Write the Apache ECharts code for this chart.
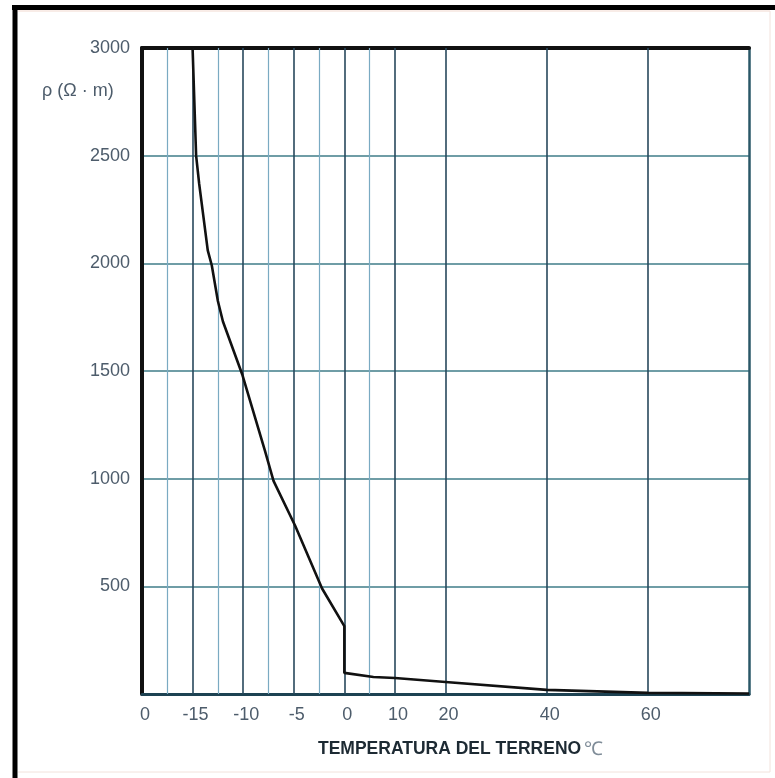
<!DOCTYPE html>
<html>
<head>
<meta charset="utf-8">
<script src="https://cdn.jsdelivr.net/npm/echarts@6/dist/echarts.min.js"></script>
<style>
html,body{margin:0;padding:0;background:#fff;}
#c{width:775px;height:778px;}
</style>
</head>
<body>
<div id="c"></div>
<script>
// Curve: soil temperature (°C) vs resistivity (Ω·m)
var temps = [-15.0, -14.65, -14.35, -13.5, -13.1, -12.5, -12.0, -10.1, -7.85, -7.0, -4.85, -2.2, 0, 0, 5.75, 10, 20, 40, 60, 80];
var resist = [3000, 2500, 2370, 2060, 1990, 1825, 1730, 1485, 1130, 990, 780, 490, 315, 98, 79, 74, 56, 19, 5, 2];

// Vertical grid temperatures (major = labelled)
var majorTemps = [-15, -10, -5, 0, 10, 20, 40, 60];
var minorTemps = [-17.5, -12.5, -7.5, -2.5, 5];
// Tick labels at temperatures
var tickTemps = [-20, -15, -10, -5, 0, 10, 20, 40, 60];
var tickLabels = ['0', '-15', '-10', '-5', '0', '10', '20', '40', '60'];

var yTicks = [500, 1000, 1500, 2000, 2500, 3000];

// Piecewise printed scale: below 0 °C 2.5 °C per division, above 0 °C 5 °C per division
function tPos(t) { return t < 0 ? (t + 20) / 2.5 : 8 + t / 5; }

var curve = temps.map(function (t, i) { return [tPos(t), resist[i]]; });
var labelMap = {};
tickTemps.forEach(function (t, i) { labelMap[Math.round(tPos(t))] = tickLabels[i]; });

var vLines = [];
majorTemps.forEach(function (t) {
  vLines.push({ xAxis: tPos(t), lineStyle: { color: '#27485c', width: 1.6, type: 'solid' } });
});
minorTemps.forEach(function (t) {
  vLines.push({ xAxis: tPos(t), lineStyle: { color: '#7aaac2', width: 1.2, type: 'solid' } });
});

var chart = echarts.init(document.getElementById('c'), null, { renderer: 'canvas' });
var font = 'Liberation Sans, Arial, sans-serif';
chart.setOption({
  animation: false,
  backgroundColor: '#fff',
  grid: { left: 142, top: 48, right: 26, bottom: 84, containLabel: false },
  xAxis: [{
    type: 'value', min: 0, max: 24, interval: 1,
    axisLine: { show: true, onZero: false, lineStyle: { color: '#1d4252', width: 3 } },
    axisTick: { show: false },
    splitLine: { show: false },
    axisLabel: {
      show: true, margin: 12, color: '#4d5c6b', fontSize: 18, fontFamily: font,
      padding: [0, 0, 0, 6],
      formatter: function (v) { var k = Math.round(v); return labelMap[k] !== undefined ? labelMap[k] : ''; }
    }
  }, {
    type: 'value', min: 0, max: 24, position: 'top',
    axisLine: { show: true, onZero: false, lineStyle: { color: '#111', width: 4 } },
    axisTick: { show: false }, axisLabel: { show: false }, splitLine: { show: false }
  }],
  yAxis: [{
    type: 'value', min: 0, max: 3000, interval: 500,
    axisLine: { show: true, onZero: false, lineStyle: { color: '#111', width: 4 } },
    axisTick: { show: false },
    splitLine: { show: true, lineStyle: { color: '#3f7d88', width: 1.5 } },
    axisLabel: {
      show: true, margin: 12, color: '#4d5c6b', fontSize: 18, fontFamily: font,
      showMinLabel: false,
      padding: [0, 0, 5, 0],
      formatter: function (v) { return yTicks.indexOf(v) >= 0 ? String(v) : ''; }
    }
  }, {
    type: 'value', min: 0, max: 3000, position: 'right',
    axisLine: { show: true, onZero: false, lineStyle: { color: '#2a5767', width: 2.5 } },
    axisTick: { show: false }, axisLabel: { show: false }, splitLine: { show: false }
  }],
  series: [{
    type: 'line', data: [], z: 1, silent: true,
    markLine: { silent: true, symbol: ['none', 'none'], label: { show: false }, animation: false, data: vLines }
  }, {
    type: 'line', data: curve, z: 5, showSymbol: false, symbol: 'none',
    lineStyle: { color: '#111', width: 2.6 }, smooth: false
  }],
  graphic: [
    { type: 'line', shape: { x1: 12, y1: 7.5, x2: 775, y2: 7.5 }, style: { stroke: '#000', lineWidth: 5 } },
    { type: 'line', shape: { x1: 15, y1: 5, x2: 15, y2: 778 }, style: { stroke: '#000', lineWidth: 5 } },
    { type: 'line', shape: { x1: 18, y1: 11, x2: 770, y2: 11 }, style: { stroke: '#f2d9cf', lineWidth: 1 } },
    { type: 'line', shape: { x1: 770, y1: 11, x2: 770, y2: 772 }, style: { stroke: '#f2e2dc', lineWidth: 1 } },
    { type: 'line', shape: { x1: 18, y1: 772, x2: 770, y2: 772 }, style: { stroke: '#f2e2dc', lineWidth: 1 } },
    {
      type: 'text', left: 42, top: 82,
      style: { text: 'ρ (Ω · m)', fill: '#4d5c6b', font: '18px ' + font }
    },
    {
      type: 'text', left: 318, top: 740,
      style: {
        text: '{a|TEMPERATURA DEL TERRENO} {b|℃}',
        rich: {
          a: { fontSize: 17.5, fontWeight: 'bold', fill: '#1d2a33', fontFamily: font },
          b: { fontSize: 19, fill: '#7f8c98', fontFamily: font }
        }
      }
    }
  ]
});
</script>
</body>
</html>
